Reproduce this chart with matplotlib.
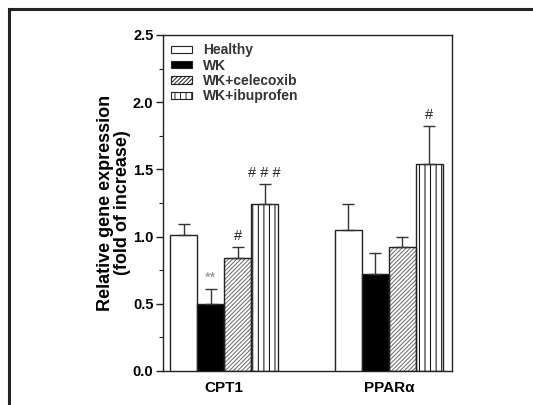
import numpy as np
import matplotlib
matplotlib.use("Agg")
from matplotlib import pyplot as plt
from matplotlib.lines import Line2D
from matplotlib.patches import Patch
from matplotlib.ticker import MultipleLocator, FormatStrFormatter

plt.rcParams['font.family'] = ['Liberation Sans', 'DejaVu Sans']
plt.rcParams['hatch.linewidth'] = 0.7

genes = ['CPT1', 'PPARα']
groups = ['Healthy', 'WK', 'WK+celecoxib', 'WK+ibuprofen']
means = {
    'Healthy': [1.01, 1.05],
    'WK': [0.50, 0.72],
    'WK+celecoxib': [0.84, 0.92],
    'WK+ibuprofen': [1.24, 1.54],
}
errors = {
    'Healthy': [0.085, 0.19],
    'WK': [0.11, 0.16],
    'WK+celecoxib': [0.08, 0.08],
    'WK+ibuprofen': [0.15, 0.285],
}
marks = {
    'WK': ['**', ''],
    'WK+celecoxib': ['#', ''],
    'WK+ibuprofen': ['# # #', '#'],
}

styles = {
    'Healthy': dict(face='white', hatch=None, hcol='black'),
    'WK': dict(face='black', hatch=None, hcol='black'),
    'WK+celecoxib': dict(face='white', hatch='////////', hcol='#666666'),
    'WK+ibuprofen': dict(face='white', hatch='|||', hcol='black'),
}

edge = '#222222'
fig = plt.figure(figsize=(5.33, 4.05), dpi=100)
ax = fig.add_axes([0.306, 0.084, 0.542, 0.8296])

centers = np.array([0.0, 6.1])
width = 1.0
offsets = [-1.5, -0.5, 0.5, 1.5]

for g, off in zip(groups, offsets):
    st = styles[g]
    x = centers + off
    if st['hatch']:
        ax.bar(x, means[g], width, color=st['face'], edgecolor=st['hcol'],
               hatch=st['hatch'], linewidth=0, zorder=2)
        ax.bar(x, means[g], width, color='none', edgecolor=edge,
               linewidth=1.0, zorder=3)
    else:
        ax.bar(x, means[g], width, color=st['face'], edgecolor=edge,
               linewidth=1.0, zorder=3)
    ax.errorbar(x, means[g], yerr=[np.zeros(2), errors[g]], fmt='none',
                ecolor='#333333', elinewidth=1.0, capsize=4.5, capthick=1.0,
                zorder=4)
    if g in marks:
        for xi, m, e, lab in zip(x, means[g], errors[g], marks[g]):
            if lab:
                col = '#888888' if lab == '**' else '#222222'
                ax.text(xi, m + e + 0.03, lab, ha='center', va='bottom',
                        fontsize=10.5, color=col)

ax.set_xlim(-2.26, 8.44)
ax.set_ylim(0, 2.5)
ax.set_xticks(centers)
ax.set_xticklabels(genes, fontsize=11, fontweight='bold')
ax.tick_params(axis='x', length=0, pad=7)
ax.yaxis.set_major_locator(MultipleLocator(0.5))
ax.yaxis.set_minor_locator(MultipleLocator(0.25))
ax.yaxis.set_major_formatter(FormatStrFormatter('%.1f'))
ax.tick_params(axis='y', which='major', length=5, width=1, direction='out', colors=edge, pad=2)
ax.tick_params(axis='y', which='minor', length=3, width=0.8, direction='out', colors=edge)
for lab in ax.get_yticklabels():
    lab.set_fontweight('bold')
    lab.set_fontsize(10.5)
    lab.set_color('black')
for sp in ax.spines.values():
    sp.set_color(edge)
    sp.set_linewidth(1.0)

ax.set_ylabel('Relative gene expression\n(fold of increase)', fontsize=13,
              fontweight='bold', linespacing=1.0)
ax.yaxis.set_label_coords(-0.112, 0.5)

handles = []
for g in groups:
    st = styles[g]
    handles.append(Patch(facecolor=st['face'], edgecolor=edge, hatch=st['hatch'],
                         linewidth=0.8, label=g))
leg = ax.legend(handles=handles, loc='upper left', frameon=False,
                handlelength=1.45, handleheight=0.45, labelspacing=0.1,
                handletextpad=0.8, borderaxespad=0.2, borderpad=0.4,
                prop={'weight': 'bold', 'size': 10})
for t in leg.get_texts():
    t.set_color('#333333')

# outer frame lines
fig.add_artist(Line2D([0.016, 1.0], [0.979, 0.979], color='#222222', lw=2.2,
                      transform=fig.transFigure))
fig.add_artist(Line2D([0.016, 0.016], [0.0, 0.979], color='#222222', lw=2.2,
                      transform=fig.transFigure))

fig.savefig('out.png', dpi=100)
